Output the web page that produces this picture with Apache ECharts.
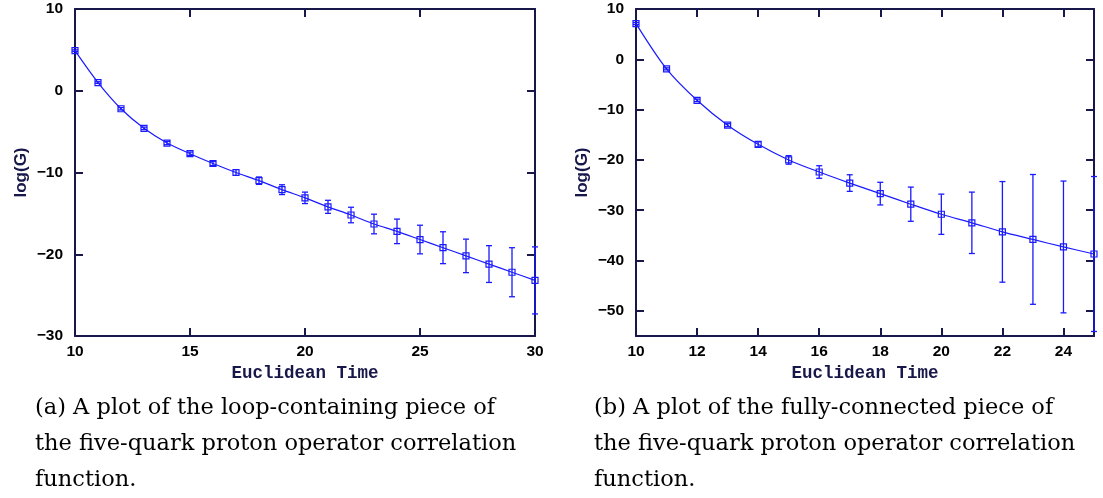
<!DOCTYPE html>
<html>
<head>
<meta charset="utf-8">
<style>
	html, body { margin:0; padding:0; background:#fff; }
	.main { width:1103px; height:498px; }
</style>
</head>
<body>
<div id="main" class="main"></div>
<script src="https://cdn.jsdelivr.net/npm/echarts@6/dist/echarts.min.js"></script>
<script>
// (a) loop-containing piece
var timeA = [10, 11, 12, 13, 14, 15, 16, 17, 18, 19, 20, 21, 22, 23, 24, 25, 26, 27, 28, 29, 30];
var logGA = [4.9, 1.0, -2.2, -4.6, -6.4, -7.7, -8.9, -10.0, -11.0, -12.1, -13.1, -14.2, -15.2, -16.3, -17.2, -18.2, -19.2, -20.2, -21.2, -22.2, -23.2];
var errA  = [0.1, 0.1, 0.15, 0.15, 0.2, 0.2, 0.25, 0.35, 0.45, 0.6, 0.7, 0.8, 0.95, 1.2, 1.5, 1.75, 1.95, 2.05, 2.25, 3.0, 4.1];
var xTicksA = [10, 15, 20, 25, 30];
var yTicksA = [-30, -20, -10, 0, 10];

// (b) fully-connected piece
var timeB = [10, 11, 12, 13, 14, 15, 16, 17, 18, 19, 20, 21, 22, 23, 24, 25];
var logGB = [7.1, -1.9, -8.15, -13.1, -16.9, -20.0, -22.4, -24.6, -26.7, -28.8, -30.8, -32.5, -34.3, -35.8, -37.3, -38.7];
var errB  = [0.2, 0.2, 0.25, 0.3, 0.5, 0.85, 1.25, 1.65, 2.25, 3.4, 4.0, 6.1, 10.0, 12.9, 13.1, 15.4];
var xTicksB = [10, 12, 14, 16, 18, 20, 22, 24];
var yTicksB = [-50, -40, -30, -20, -10, 0, 10];

var captionA = '(a) A plot of the loop-containing piece of\nthe five-quark proton operator correlation\nfunction.';
var captionB = '(b) A plot of the fully-connected piece of\nthe five-quark proton operator correlation\nfunction.';

var blue = '#1a1aff';
var axisCol = '#17174a';

function pairs(xs, ys) {
	return xs.map(function (x, i) { return [x, ys[i]]; });
}
function bars(xs, ys, es) {
	return xs.map(function (x, i) { return [x, ys[i] - es[i], ys[i] + es[i]]; });
}
function fmt(list) {
	return function (v) {
		if (list.indexOf(v) < 0) return '';
		return String(v).replace('-', '\u2212');
	};
}

function errorBar(params, api) {
	var x = api.value(0);
	var lo = api.coord([x, api.value(1)]);
	var hi = api.coord([x, api.value(2)]);
	var w = 3;
	var st = { stroke: blue, lineWidth: 1.3 };
	return {
		type: 'group',
		children: [
			{ type: 'line', shape: { x1: lo[0], y1: lo[1], x2: hi[0], y2: hi[1] }, style: st },
			{ type: 'line', shape: { x1: lo[0] - w, y1: lo[1], x2: lo[0] + w, y2: lo[1] }, style: st },
			{ type: 'line', shape: { x1: hi[0] - w, y1: hi[1], x2: hi[0] + w, y2: hi[1] }, style: st }
		]
	};
}

var tickStyle = { show: true, inside: true, length: 8, lineStyle: { color: axisCol, width: 2 } };
var lineStyle = { show: true, onZero: false, lineStyle: { color: axisCol, width: 2 } };
var labelStyle = { color: '#000', fontFamily: 'Liberation Sans', fontWeight: 'bold', fontSize: 15.5 };

function xAxes(grid, min, max, interval, ticks) {
	return [{
		type: 'value', gridIndex: grid, position: 'bottom', min: min, max: max, interval: interval,
		axisLine: lineStyle, axisTick: tickStyle, splitLine: { show: false },
		axisLabel: Object.assign({ formatter: fmt(ticks), margin: 8 }, labelStyle),
		name: 'Euclidean Time', nameLocation: 'middle', nameGap: 29,
		nameTextStyle: { color: axisCol, fontFamily: 'Liberation Mono', fontWeight: 'bold', fontSize: 17.5 }
	}, {
		type: 'value', gridIndex: grid, position: 'top', min: min, max: max, interval: interval,
		axisLine: lineStyle, axisTick: tickStyle, splitLine: { show: false }, axisLabel: { show: false }
	}];
}
function yAxes(grid, min, max, ticks, interval) {
	var base = { type: 'value', gridIndex: grid, min: min, max: max, splitLine: { show: false } };
	if (interval) base.interval = interval; else base.splitNumber = 6;
	return [Object.assign({
		position: 'left', axisLine: lineStyle, axisTick: tickStyle,
		axisLabel: Object.assign({ formatter: fmt(ticks), margin: 12, showMinLabel: min % 10 === 0 }, labelStyle),
		name: 'log(G)', nameLocation: 'middle', nameGap: 45,
		nameTextStyle: { color: axisCol, fontFamily: 'Liberation Sans', fontWeight: 'bold', fontSize: 17 }
	}, base), Object.assign({
		position: 'right', axisLine: lineStyle, axisTick: tickStyle, axisLabel: { show: false }
	}, base)];
}

var myChart = echarts.init(document.getElementById('main'));

var capStyle = { fontFamily: 'DejaVu Serif', fontWeight: 'normal', fontSize: 22.5, lineHeight: 36, color: '#000' };

var option = {
	backgroundColor: '#fff',
	animation: false,
	title: [
		{ text: captionA, left: 35, top: 390, padding: 0, textStyle: capStyle },
		{ text: captionB, left: 594, top: 390, padding: 0, textStyle: capStyle }
	],
	grid: [
		{ left: 75, top: 9, width: 460, height: 327 },
		{ left: 636, top: 9, width: 458, height: 327 }
	],
	xAxis: xAxes(0, 10, 30, 5, xTicksA).concat(xAxes(1, 10, 25, 2, xTicksB)),
	yAxis: yAxes(0, -30, 10, yTicksA, 10).concat(yAxes(1, -55, 10, yTicksB, null)),
	series: [
		{
			type: 'line', xAxisIndex: 0, yAxisIndex: 0, data: pairs(timeA, logGA),
			smooth: 0.3, symbol: 'rect', symbolSize: 6,
			lineStyle: { color: blue, width: 1.2 },
			itemStyle: { color: 'rgba(0,0,0,0)', borderColor: blue, borderWidth: 1.2 }
		},
		{
			type: 'custom', xAxisIndex: 0, yAxisIndex: 0, data: bars(timeA, logGA, errA),
			encode: { x: 0, y: [1, 2] }, renderItem: errorBar
		},
		{
			type: 'line', xAxisIndex: 2, yAxisIndex: 2, data: pairs(timeB, logGB),
			smooth: 0.3, symbol: 'rect', symbolSize: 6,
			lineStyle: { color: blue, width: 1.2 },
			itemStyle: { color: 'rgba(0,0,0,0)', borderColor: blue, borderWidth: 1.2 }
		},
		{
			type: 'custom', xAxisIndex: 2, yAxisIndex: 2, data: bars(timeB, logGB, errB),
			encode: { x: 0, y: [1, 2] }, renderItem: errorBar
		}
	]
};

myChart.setOption(option);
</script>
</body>
</html>
